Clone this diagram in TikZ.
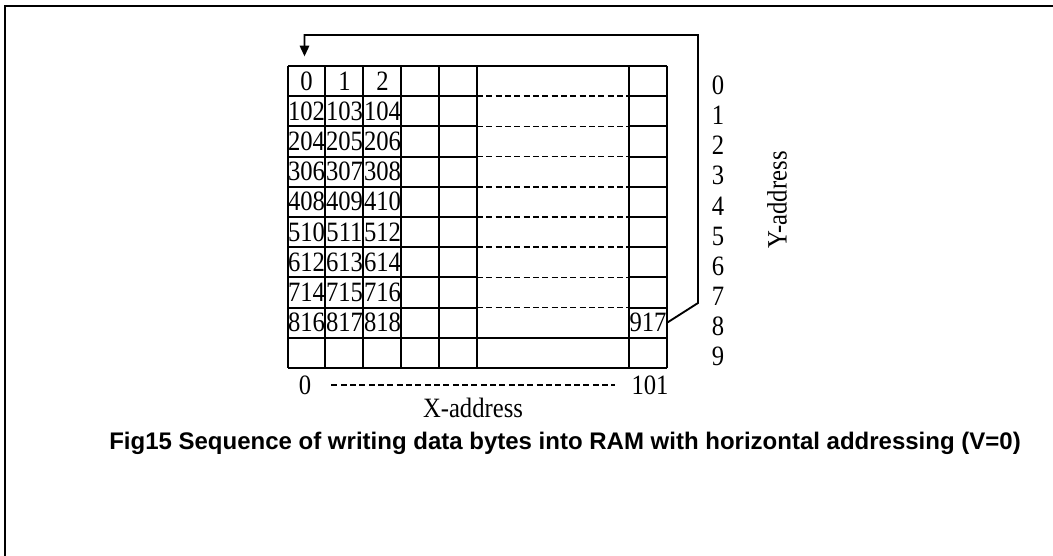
\documentclass[tikz,border=0pt]{standalone}
\usepackage{fontspec}
\setmainfont{Liberation Serif}
\newfontfamily\narrowfont[FakeStretch=0.88]{Liberation Serif}
\newfontfamily\capfont{Liberation Sans}
\usetikzlibrary{arrows.meta}
\tikzstyle{cell} = [rectangle, minimum width=28.5pt, minimum height=22.5pt, inner sep=0pt, text centered, font=\narrowfont\fontsize{21}{21}\selectfont]
\tikzstyle{label} = [inner sep=0pt, font=\narrowfont\fontsize{21}{21}\selectfont]
\tikzstyle{gridline} = [line width=1.5pt]
\tikzstyle{dashline} = [line width=1.2pt, dash pattern=on 4.5pt off 2.5pt]
\tikzstyle{arrow} = [line width=1.4pt,-{Triangle[length=8pt,width=7pt]}]

\begin{document}
\begin{tikzpicture}[x=0.75pt,y=-0.75pt]
    \useasboundingbox (0,0) rectangle (1053,556);
    \draw [line width=1.5pt] (1053,6) -- (5,6) -- (5,556);
    \foreach \x in {288,325,363,401,439,477,629,667}
        \draw [gridline] (\x,66) -- (\x,368);
    \foreach \i in {0,...,10} {
        \draw [gridline] (288,66+30.2*\i) -- (477,66+30.2*\i);
        \draw [gridline] (629,66+30.2*\i) -- (667,66+30.2*\i);
    }
    \foreach \i in {0,9,10}
        \draw [gridline] (477,66+30.2*\i) -- (629,66+30.2*\i);
    \foreach \i in {1,...,8}
        \draw [dashline] (477,66+30.2*\i) -- (629,66+30.2*\i);
    \foreach \r in {0,...,8}
        \foreach \c in {0,1,2} {
            \pgfmathtruncatemacro{\val}{102*\r+\c}
            \node [cell] at (306.5+38*\c,81+30.2*\r) (n\val) {\val};
        }
    \node [cell] at (648,322.6) (n917) {917};
    \foreach \r in {0,...,9}
        \node [label] at (718,85+30.2*\r) (y\r) {\r};
    \node [label, rotate=90] at (777,200) (yaddr) {Y-address};
    \node [label] at (305,385) (x0) {0};
    \node [label] at (650,385) (x101) {101};
    \node [label] at (473,408) (xaddr) {X-address};
    \draw [dashline] ([xshift=15pt]x0.east) -- ([xshift=-12pt]x101.west);
    \coordinate (wrap) at (698,303);
    \draw [arrow] (n917.east) -- (wrap) -- ++(0,-268) -| ([xshift=-1.5pt,yshift=7pt]n0.north);
    \node [font=\capfont\bfseries\fontsize{18}{20}\selectfont] at (565,443) (caption) {Fig15 Sequence of writing data bytes into RAM with horizontal addressing (V=0)};
\end{tikzpicture}
\end{document}
